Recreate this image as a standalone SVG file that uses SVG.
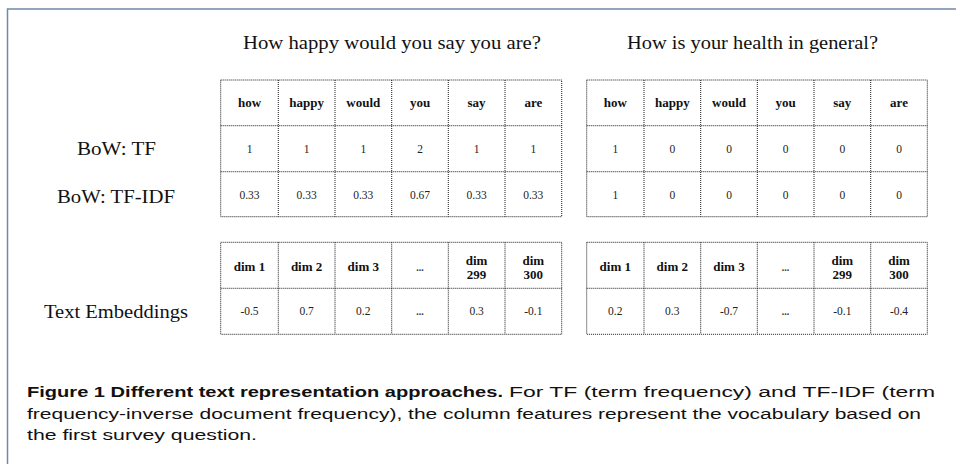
<svg xmlns="http://www.w3.org/2000/svg" width="956" height="464" viewBox="0 0 956 464">
<style>
.frame{stroke:#6f89a8;stroke-width:1.5;fill:none}
.grid{stroke:#1a1a1a;stroke-width:1;stroke-dasharray:1 1;fill:none}
.title{font-family:"Liberation Serif","DejaVu Serif",serif;font-size:18px;fill:#111}
.lbl{font-family:"Liberation Serif","DejaVu Serif",serif;font-size:18px;fill:#111;text-anchor:middle}
.hd{font-family:"Liberation Serif","DejaVu Serif",serif;font-size:13px;font-weight:bold;fill:#111;text-anchor:middle}
.val{font-family:"Liberation Serif","DejaVu Serif",serif;font-size:11.5px;fill:#222;text-anchor:middle}
.ell{font-family:"Liberation Serif","DejaVu Serif",serif;font-size:10px;font-weight:bold;fill:#333;text-anchor:middle}
.cap{font-family:"Liberation Sans","DejaVu Sans",sans-serif;font-size:15.5px;fill:#111}
.capb{font-family:"Liberation Sans","DejaVu Sans",sans-serif;font-size:15.5px;font-weight:bold;fill:#111}
</style>
<rect width="956" height="464" fill="#fff"/>
<path class="frame" d="M7.5,464 V9 H956"/>

<g id="titles">
<text class="title" x="243" y="49" textLength="298" lengthAdjust="spacingAndGlyphs">How happy would you say you are?</text>
<text class="title" x="627" y="49" textLength="251" lengthAdjust="spacingAndGlyphs">How is your health in general?</text>
</g>

<g id="row-labels">
<text class="lbl" x="116.5" y="155" textLength="79" lengthAdjust="spacingAndGlyphs">BoW: TF</text>
<text class="lbl" x="116" y="202.5" textLength="118" lengthAdjust="spacingAndGlyphs">BoW: TF-IDF</text>
<text class="lbl" x="116" y="318" textLength="144" lengthAdjust="spacingAndGlyphs">Text Embeddings</text>
</g>

<g id="table-bow-q1">
<rect class="grid" x="220.7" y="80" width="341" height="136.7"/>
<path class="grid" d="M220.7,125.7 H561.7 M220.7,171.7 H561.7 M278.3,80 V216.7 M335,80 V216.7 M391.7,80 V216.7 M448.3,80 V216.7 M505,80 V216.7"/>
<text class="hd" x="249.5" y="106.5">how</text>
<text class="hd" x="306.6" y="106.5">happy</text>
<text class="hd" x="363.3" y="106.5">would</text>
<text class="hd" x="420" y="106.5">you</text>
<text class="hd" x="476.6" y="106.5">say</text>
<text class="hd" x="533.3" y="106.5">are</text>
<text class="val" x="249.5" y="152.7">1</text>
<text class="val" x="306.6" y="152.7">1</text>
<text class="val" x="363.3" y="152.7">1</text>
<text class="val" x="420" y="152.7">2</text>
<text class="val" x="476.6" y="152.7">1</text>
<text class="val" x="533.3" y="152.7">1</text>
<text class="val" x="249.5" y="198.8">0.33</text>
<text class="val" x="306.6" y="198.8">0.33</text>
<text class="val" x="363.3" y="198.8">0.33</text>
<text class="val" x="420" y="198.8">0.67</text>
<text class="val" x="476.6" y="198.8">0.33</text>
<text class="val" x="533.3" y="198.8">0.33</text>
</g>

<g id="table-bow-q2">
<rect class="grid" x="586.7" y="80" width="340.6" height="136.7"/>
<path class="grid" d="M586.7,125.7 H927.3 M586.7,171.7 H927.3 M644,80 V216.7 M700.7,80 V216.7 M757.3,80 V216.7 M814,80 V216.7 M870.7,80 V216.7"/>
<text class="hd" x="615.3" y="106.5">how</text>
<text class="hd" x="672.3" y="106.5">happy</text>
<text class="hd" x="729" y="106.5">would</text>
<text class="hd" x="785.6" y="106.5">you</text>
<text class="hd" x="842.3" y="106.5">say</text>
<text class="hd" x="899" y="106.5">are</text>
<text class="val" x="615.3" y="152.7">1</text>
<text class="val" x="672.3" y="152.7">0</text>
<text class="val" x="729" y="152.7">0</text>
<text class="val" x="785.6" y="152.7">0</text>
<text class="val" x="842.3" y="152.7">0</text>
<text class="val" x="899" y="152.7">0</text>
<text class="val" x="615.3" y="198.8">1</text>
<text class="val" x="672.3" y="198.8">0</text>
<text class="val" x="729" y="198.8">0</text>
<text class="val" x="785.6" y="198.8">0</text>
<text class="val" x="842.3" y="198.8">0</text>
<text class="val" x="899" y="198.8">0</text>
</g>

<g id="table-emb-q1">
<rect class="grid" x="220.7" y="242.3" width="341" height="92"/>
<path class="grid" d="M220.7,288.3 H561.7 M278.3,242.3 V334.3 M335,242.3 V334.3 M391.7,242.3 V334.3 M448.3,242.3 V334.3 M505,242.3 V334.3"/>
<text class="hd" x="249.5" y="270.5">dim 1</text>
<text class="hd" x="306.6" y="270.5">dim 2</text>
<text class="hd" x="363.3" y="270.5">dim 3</text>
<text class="ell" x="420" y="270.5">...</text>
<text class="hd" x="476.6" y="265">dim</text>
<text class="hd" x="476.6" y="279.3">299</text>
<text class="hd" x="533.3" y="265">dim</text>
<text class="hd" x="533.3" y="279.3">300</text>
<text class="val" x="249.5" y="315.3">-0.5</text>
<text class="val" x="306.6" y="315.3">0.7</text>
<text class="val" x="363.3" y="315.3">0.2</text>
<text class="ell" x="420" y="315.3">...</text>
<text class="val" x="476.6" y="315.3">0.3</text>
<text class="val" x="533.3" y="315.3">-0.1</text>
</g>

<g id="table-emb-q2">
<rect class="grid" x="586.7" y="242.3" width="340.6" height="92"/>
<path class="grid" d="M586.7,288.3 H927.3 M644,242.3 V334.3 M700.7,242.3 V334.3 M757.3,242.3 V334.3 M814,242.3 V334.3 M870.7,242.3 V334.3"/>
<text class="hd" x="615.3" y="270.5">dim 1</text>
<text class="hd" x="672.3" y="270.5">dim 2</text>
<text class="hd" x="729" y="270.5">dim 3</text>
<text class="ell" x="785.6" y="270.5">...</text>
<text class="hd" x="842.3" y="265">dim</text>
<text class="hd" x="842.3" y="279.3">299</text>
<text class="hd" x="899" y="265">dim</text>
<text class="hd" x="899" y="279.3">300</text>
<text class="val" x="615.3" y="315.3">0.2</text>
<text class="val" x="672.3" y="315.3">0.3</text>
<text class="val" x="729" y="315.3">-0.7</text>
<text class="ell" x="785.6" y="315.3">...</text>
<text class="val" x="842.3" y="315.3">-0.1</text>
<text class="val" x="899" y="315.3">-0.4</text>
</g>

<g id="connectors"/>

<g id="caption">
<text class="capb" x="27" y="397.3" textLength="476" lengthAdjust="spacingAndGlyphs">Figure 1 Different text representation approaches.</text>
<text class="cap" x="509" y="397.3" textLength="426" lengthAdjust="spacingAndGlyphs">For TF (term frequency) and TF-IDF (term</text>
<text class="cap" x="27" y="419.3" textLength="894" lengthAdjust="spacingAndGlyphs">frequency-inverse document frequency), the column features represent the vocabulary based on</text>
<text class="cap" x="27" y="440.3" textLength="230" lengthAdjust="spacingAndGlyphs">the first survey question.</text>
</g>
</svg>
